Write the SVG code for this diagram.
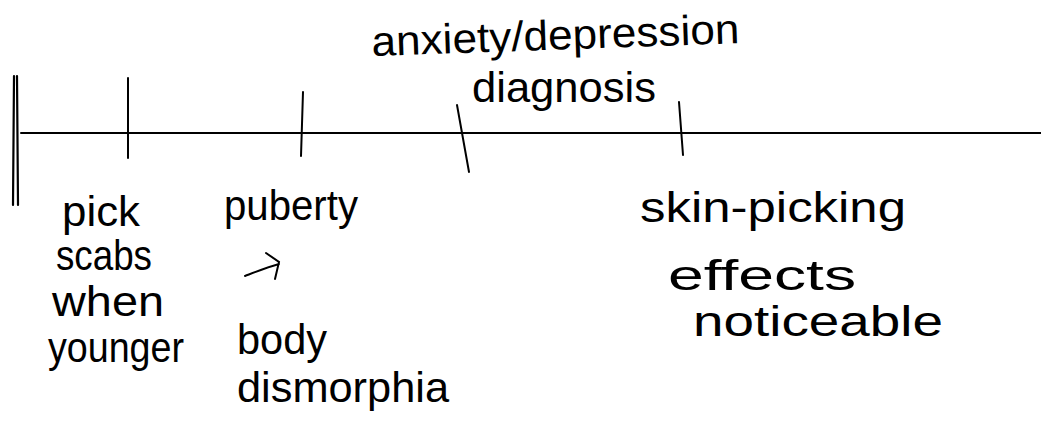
<svg xmlns="http://www.w3.org/2000/svg" width="1041" height="427" viewBox="0 0 1041 427">
<style>
.ln{stroke:#000;stroke-width:2;fill:none;stroke-linecap:round}
.t{font-family:"Liberation Sans",Arial,sans-serif;font-size:42px;fill:#000}
</style>
<rect width="1041" height="427" fill="#fff"/>
<g id="connectors">
<path class="ln" d="M21 133 L1041 133"/>
<path class="ln" d="M14 76 L13 205 M17 76 L18 205" style="stroke-width:2.2"/>
<path class="ln" d="M128 78 L128 158"/>
<path class="ln" d="M303 92 L301 156"/>
<path class="ln" d="M457 105 L469 172"/>
<path class="ln" d="M679 102 L683 155"/>
</g>
<g id="node-pick">
<text class="t" x="62" y="226" textLength="78" lengthAdjust="spacingAndGlyphs">pick</text>
<text class="t" x="56" y="270" textLength="96" lengthAdjust="spacingAndGlyphs">scabs</text>
<text class="t" x="52" y="316" textLength="112" lengthAdjust="spacingAndGlyphs">when</text>
<text class="t" x="48" y="362" textLength="136" lengthAdjust="spacingAndGlyphs">younger</text>
</g>
<g id="node-puberty">
<text class="t" x="224" y="220" textLength="134" lengthAdjust="spacingAndGlyphs">puberty</text>
<path class="ln" d="M245 276 C258 271 268 267 279 264 M266 253 L279 262 L275 279"/>
<text class="t" x="237" y="354" textLength="90" lengthAdjust="spacingAndGlyphs">body</text>
<text class="t" x="237" y="402" textLength="212" lengthAdjust="spacingAndGlyphs">dismorphia</text>
</g>
<g id="node-anxiety">
<text class="t" x="372" y="56" textLength="368" lengthAdjust="spacingAndGlyphs" transform="rotate(-2 372 56)">anxiety/depression</text>
<text class="t" x="472" y="102" textLength="184" lengthAdjust="spacingAndGlyphs">diagnosis</text>
</g>
<g id="node-skin">
<text class="t" x="640" y="222" textLength="266" lengthAdjust="spacingAndGlyphs">skin-picking</text>
<text class="t" x="668" y="290" textLength="188" lengthAdjust="spacingAndGlyphs">effects</text>
<text class="t" x="693" y="336" textLength="250" lengthAdjust="spacingAndGlyphs">noticeable</text>
</g>
</svg>
